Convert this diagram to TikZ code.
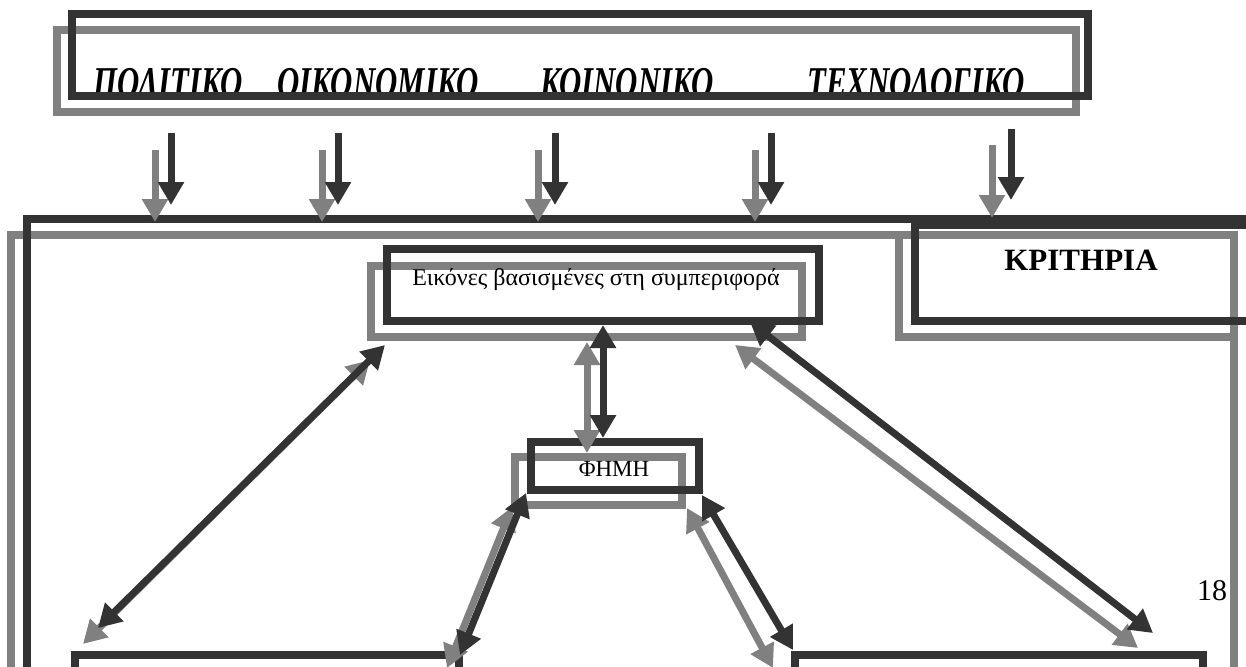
\documentclass[tikz,border=0pt]{standalone}
\usepackage{fontspec}
\setmainfont{Liberation Serif}
\usetikzlibrary{arrows.meta}
\definecolor{dk}{HTML}{333333}
\definecolor{gr}{HTML}{808080}
\tikzset{big/.tip={Triangle[width=25pt,length=23pt]}}
\tikzstyle{none}=[inner sep=0pt]
\tikzstyle{caption}=[anchor=base, inner sep=0pt]
\tikzstyle{grey line}=[draw=gr, line width=7.5pt]
\tikzstyle{dark line}=[draw=dk, line width=7.5pt]
\tikzstyle{grey arrow}=[draw=gr, line width=7pt, -big]
\tikzstyle{dark arrow}=[draw=dk, line width=7pt, -big]
\tikzstyle{grey both}=[draw=gr, line width=7pt, big-big]
\tikzstyle{dark both}=[draw=dk, line width=7pt, big-big]

\begin{document}
\begin{tikzpicture}[x=1pt, y=-1pt]
		\clip (0,0) rectangle (1246,666);
		\node [style=none] (0) at (57, 30) {};
		\node [style=none] (1) at (1076, 112) {};
		\node [style=none] (2) at (72, 14) {};
		\node [style=none] (3) at (1088, 96) {};
		\begin{scope}
			\clip (62,18) rectangle (1085,92);
			\node [style=caption, font=\bfseries\itshape\fontsize{44}{50}\selectfont] (4) at (168, 98) {\scalebox{0.7}[1]{ΠΟΛΙΤΙΚΟ}};
			\node [style=caption, font=\bfseries\itshape\fontsize{44}{50}\selectfont] (5) at (378, 98) {\scalebox{0.7}[1]{ΟΙΚΟΝΟΜΙΚΟ}};
			\node [style=caption, font=\bfseries\itshape\fontsize{44}{50}\selectfont] (6) at (627, 98) {\scalebox{0.7}[1]{ΚΟΙΝΟΝΙΚΟ}};
			\node [style=caption, font=\bfseries\itshape\fontsize{44}{50}\selectfont] (7) at (916, 98) {\scalebox{0.7}[1]{ΤΕΧΝΟΛΟΓΙΚΟ}};
		\end{scope}
		\draw [style=grey line] (0.center) rectangle (1.center);
		\draw [style=dark line] (2.center) rectangle (3.center);
		\node [style=none] (8) at (155, 150) {};
		\node [style=none] (9) at (155, 222) {};
		\node [style=none] (10) at (171, 133) {};
		\node [style=none] (11) at (171, 205) {};
		\node [style=none] (12) at (322, 150) {};
		\node [style=none] (13) at (322, 222) {};
		\node [style=none] (14) at (338, 133) {};
		\node [style=none] (15) at (338, 205) {};
		\node [style=none] (16) at (538, 150) {};
		\node [style=none] (17) at (538, 222) {};
		\node [style=none] (18) at (555, 133) {};
		\node [style=none] (19) at (555, 205) {};
		\node [style=none] (20) at (755, 150) {};
		\node [style=none] (21) at (755, 222) {};
		\node [style=none] (22) at (771, 133) {};
		\node [style=none] (23) at (771, 205) {};
		\node [style=none] (24) at (992, 145) {};
		\node [style=none] (25) at (992, 218) {};
		\node [style=none] (26) at (1011, 129) {};
		\node [style=none] (27) at (1011, 200) {};
		\node [style=none] (28) at (11, 700) {};
		\node [style=none] (29) at (11, 235) {};
		\node [style=none] (30) at (1234, 235) {};
		\node [style=none] (31) at (1234, 700) {};
		\node [style=none] (32) at (27, 700) {};
		\node [style=none] (33) at (27, 219) {};
		\node [style=none] (34) at (1260, 219) {};
		\node [style=none] (35) at (899, 235) {};
		\node [style=none] (36) at (1234, 337) {};
		\node [style=none] (37) at (1260, 225) {};
		\node [style=none] (38) at (915, 225) {};
		\node [style=none] (39) at (915, 321) {};
		\node [style=none] (40) at (1260, 321) {};
		\node [style=none] (42) at (371, 266) {};
		\node [style=none] (43) at (802, 337) {};
		\node [style=none] (44) at (387, 249) {};
		\node [style=none] (45) at (819, 321) {};
		\node [style=none] (47) at (515, 457) {};
		\node [style=none] (48) at (682, 505) {};
		\node [style=none] (49) at (531, 442) {};
		\node [style=none] (50) at (699, 490) {};
		\node [style=none] (52) at (75, 655) {};
		\node [style=none] (53) at (459, 700) {};
		\node [style=none] (54) at (795, 655) {};
		\node [style=none] (55) at (1203, 700) {};
		\node [style=none] (57) at (587, 342) {};
		\node [style=none] (58) at (587, 453) {};
		\node [style=none] (59) at (603, 325) {};
		\node [style=none] (60) at (603, 438) {};
		\node [style=none] (61) at (370, 360) {};
		\node [style=none] (62) at (83, 644) {};
		\node [style=none] (63) at (385, 345) {};
		\node [style=none] (64) at (98, 628) {};
		\node [style=none] (65) at (512, 507) {};
		\node [style=none] (66) at (447, 668) {};
		\node [style=none] (67) at (526, 493) {};
		\node [style=none] (68) at (460, 655) {};
		\node [style=none] (69) at (687, 508) {};
		\node [style=none] (70) at (773, 668) {};
		\node [style=none] (71) at (702, 495) {};
		\node [style=none] (72) at (793, 650) {};
		\node [style=none] (73) at (735, 345) {};
		\node [style=none] (74) at (1138, 648) {};
		\node [style=none] (75) at (750, 322) {};
		\node [style=none] (76) at (1153, 633) {};
		\draw [style=grey line] (28.center) to (29.center) to (30.center) to (31.center);
		\draw [style=grey line] (35.center) rectangle (36.center);
		\draw [style=grey line] (42.center) rectangle (43.center);
		\draw [style=grey line] (47.center) rectangle (48.center);
		\draw [style=dark line] (32.center) to (33.center) to (34.center);
		\draw [style=dark line] (37.center) to (38.center) to (39.center) to (40.center);
		\draw [style=dark line] (44.center) rectangle (45.center);
		\draw [style=dark line] (49.center) rectangle (50.center);
		\draw [style=dark line] (52.center) rectangle (53.center);
		\draw [style=dark line] (54.center) rectangle (55.center);
		\node [style=caption, font=\bfseries\fontsize{31}{36}\selectfont] (41) at (1081, 270) {ΚΡΙΤΗΡΙΑ};
		\node [style=caption, font=\fontsize{24}{28}\selectfont] (46) at (596, 285) {Εικόνες βασισμένες στη συμπεριφορά};
		\node [style=caption, font=\fontsize{23}{27}\selectfont] (51) at (614, 476) {ΦΗΜΗ};
		\node [style=caption, font=\fontsize{30}{34}\selectfont] (56) at (1212, 600) {18};
		\draw [style=grey arrow] (8.center) to (9.center);
		\draw [style=grey arrow] (12.center) to (13.center);
		\draw [style=grey arrow] (16.center) to (17.center);
		\draw [style=grey arrow] (20.center) to (21.center);
		\draw [style=grey arrow] (24.center) to (25.center);
		\draw [style=dark arrow] (10.center) to (11.center);
		\draw [style=dark arrow] (14.center) to (15.center);
		\draw [style=dark arrow] (18.center) to (19.center);
		\draw [style=dark arrow] (22.center) to (23.center);
		\draw [style=dark arrow] (26.center) to (27.center);
		\draw [style=grey both] (57.center) to (58.center);
		\draw [style=grey both] (61.center) to (62.center);
		\draw [style=grey both] (65.center) to (66.center);
		\draw [style=grey both] (69.center) to (70.center);
		\draw [style=grey both] (73.center) to (74.center);
		\draw [style=dark both] (59.center) to (60.center);
		\draw [style=dark both] (63.center) to (64.center);
		\draw [style=dark both] (67.center) to (68.center);
		\draw [style=dark both] (71.center) to (72.center);
		\draw [style=dark both] (75.center) to (76.center);
\end{tikzpicture}
\end{document}
